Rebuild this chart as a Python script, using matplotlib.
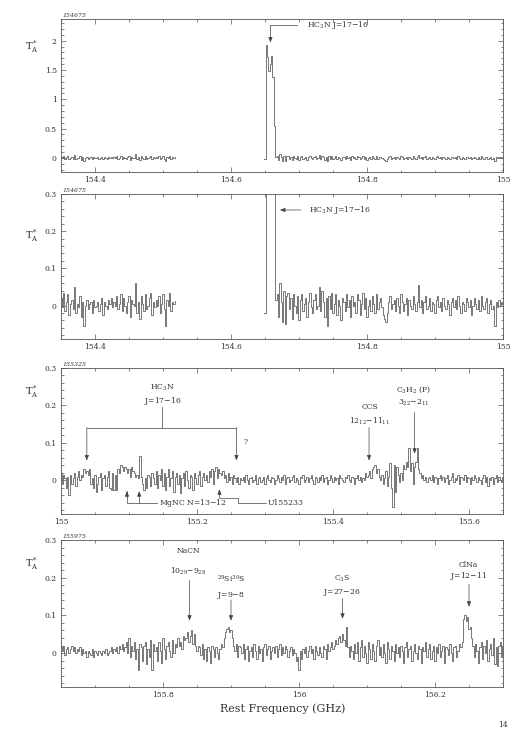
import numpy as np
import matplotlib
matplotlib.use("Agg")
import matplotlib.pyplot as plt
from matplotlib.ticker import MultipleLocator, FuncFormatter

plt.rcParams['font.family'] = ['DejaVu Serif']
plt.rcParams['mathtext.fontset'] = 'dejavuserif'

# spectra, T_A* in mK, 2 MHz channels
step = 0.002

a_left_start = 154.350
a_left = [20, -5, 35, -15, 10, 30, -25, 5, 15, -10,
          50, -20, 5, -5, 25, -30, 10, -55, 0, 15,
          -10, 5, 10, -20, 15, -5, 0, 10, -15, 5,
          20, -25, 10, 0, -10, 15, 5, 20, -5, 10,
          0, 25, -10, 5, 30, -15, 20, 0, -20, 10,
          25, -30, 15, 5, 0, 60, -20, 10, -35, 25,
          5, -15, 30, -10, 0, 20, 35, -25, 10, -5,
          15, 0, 25, -20, 5, 30, -10, -55, 15, 0,
          35, -15, 10, 5, 13]

a_right_start = 154.648
a_right = [-20, -20, 1930, 1720, 1480, 1600, 1740, 1380, 550, 15,
           30, -30, 60, 10, -45, 40, -50, 25, 35, -10,
           20, -35, 30, 0, -20, 25, -40, 15, 30, -15,
           5, 20, -30, 10, 35, -5, -20, 15, 30, -10,
           0, 50, -15, 40, 10, -30, 20, -55, 25, -10,
           35, -20, 5, 30, -25, 15, 0, -40, 20, 10,
           -15, 30, -5, 15, -30, 25, 0, 10, -20, 30,
           15, -25, 5, 35, -10, 20, -30, 0, 15, -15,
           25, 5, -20, 30, -10, 10, 20, -5, -25, -35,
           -45, -20, 10, 25, -10, 5, 15, -15, 20, 0,
           -20, 30, 10, -15, 5, 20, -25, 15, 0, -10,
           25, 5, -15, 10, 55, -5, 15, -20, 10, 25,
           -10, 0, 20, -15, 10, 5, -20, 15, 25, -5,
           10, -15, 20, 0, -10, 15, 5, -25, 10, 20,
           -5, 15, -10, 25, 0, -20, 10, 5, -15, 20,
           10, -5, 15, -25, 0, 20, 5, -10, 15, -15,
           25, 0, -10, 10, 20, -20, 5, 15, -10, 0,
           -55, 10, -5, 15, 0, 10, 5]

b_start = 155.000
b_vals = [20, -10, 15, 5, -20, 10, -40, 15, -10, 5,
          20, -15, 10, 25, 0, 15, 10, 30, 20, 25,
          15, 30, -10, 5, -20, 15, -30, -10, 10, 20,
          -25, 5, 15, -15, 10, 25, -20, -25, 20, -25,
          15, -25, 30, 20, 40, 35, 25, 35, 30, 20,
          30, 10, 35, 25, 20, 10, 15, 5, 65, 10,
          -10, -25, 5, -20, 15, 10, -15, 20, 5, -10,
          25, -20, 15, 0, 30, -15, 20, -25, 10, 30,
          -15, 5, 25, -30, 10, 20, -10, 15, -35, 5,
          20, -15, 25, 0, -20, 15, 10, -25, 20, 5,
          -10, 15, 25, -15, 10, 20, 0, 15, -5, 25,
          10, 30, -10, 25, 35, 5, 30, 20, 15, 25,
          5, 15, -5, 20, 0, 10, -10, 15, 5, -5,
          10, -10, 5, 0, 10, -5, 15, 0, -10, 5,
          10, -5, 0, 15, -10, 5, 10, -5, 0, 10,
          -10, 5, 15, 0, -5, 10, 5, -10, 0, 15,
          5, -5, 10, 0, 15, -10, 5, 10, -5, 0,
          10, 15, -5, 5, 0, -10, 10, 5, 15, -5,
          0, 10, -5, 5, 15, 0, -10, 10, 5, -5,
          10, 0, 15, -5, 5, 10, -10, 0, 15, 5,
          -5, 10, 0, 5, -10, 15, 5, 0, -5, 10,
          5, 15, 0, -5, 10, 5, -10, 5, 15, 0,
          10, -5, 5, 0, 20, 10, 15, 25, 5, 30,
          35, 40, 20, 30, 10, 0, 15, -10, 5, 25,
          -15, 10, 45, -20, -70, 40, -30, 35, 15, -5,
          20, 0, 40, 30, 50, 35, 85, 25, 45, -10,
          35, 50, 85, 30, 20, 5, 15, 0, 10, -5,
          5, 10, 0, 15, -5, 10, 5, -10, 5, 15,
          0, 10, -5, 5, 15, -10, 0, 10, 20, -5,
          5, 0, 15, -10, 10, 5, 0, 15, -5, 10,
          5, -10, 10, 0, 15, 5, -5, 10, 0, -10,
          5, 15, -5, 10, -15, 5, 0, 10, -10, 5,
          15, -5, 10, 0, -5, 10]

c_start = 155.650
c_vals = [15, 5, 20, -5, 10, 15, 0, 10, 20, 5,
          15, 0, 10, 5, 15, -5, 10, 0, 5, -10,
          5, 0, -5, 10, -10, 5, 0, -5, 5, 0,
          -5, 5, 0, 10, -5, 0, 5, 15, 0, 10,
          5, 15, 0, 20, 10, 25, 5, 15, 30, 0,
          40, -10, 20, 5, 30, -15, 10, -45, 25, 15,
          -20, 20, 30, -30, 10, -10, 35, -45, 25, 5,
          15, -20, 30, 5, -25, 40, 10, -15, 20, 30,
          5, -10, 35, 0, 25, 15, 40, 20, 30, 10,
          45, 35, 40, 55, 30, 45, 60, 25, 50, 20,
          5, 20, 15, -5, 25, -15, 10, -20, 15, 5,
          -25, 20, 10, -10, 15, 0, -15, 10, 25, 15,
          40, 55, 65, 70, 55, 60, 40, 20, 5, 25,
          -10, 20, 15, 0, 25, -15, 10, 20, -20, 5,
          15, -10, 25, 5, -15, 20, 0, 10, -20, 15,
          25, -5, 10, 20, -15, 5, 15, 0, 20, -10,
          10, 25, -5, 15, 0, 20, 10, -10, 5, 15,
          -5, 10, 0, -20, -10, -45, 5, -15, 10, 0,
          15, -10, 5, 20, 0, 10, -15, 20, 5, -5,
          15, 0, -10, 20, 10, -15, 25, 5, 15, 30,
          10, 20, 35, 25, 40, 45, 30, 50, 35, 20,
          70, 15, -10, 20, 5, -15, 25, 0, 30, -20,
          15, 35, -10, 20, 0, -25, 30, 10, -15, 25,
          5, -20, 20, 35, -5, 15, -10, 25, 0, -25,
          30, 10, -15, 20, 5, -20, 25, 0, 15, -10,
          20, 5, -25, 15, 30, -10, 10, 20, -20, 5,
          25, 0, -15, 20, 10, -25, 15, 5, 30, -10,
          10, 25, -15, 5, 20, -20, 15, 0, 25, -10,
          5, 20, -25, 15, 10, -5, 25, 0, -20, 15,
          20, -10, 5, 25, 15, 30, 90, 100, 85, 95,
          65, 70, 40, 20, -10, 25, 5, -25, 15, 30,
          -15, 20, 0, 35, -20, 10, 25, -5, 40, -30,
          15, -35, 20, 30, -10, 15]

panel_labels = ["154675", "154675", "155325", "155975"]
xlims = [(154.35, 155.0), (154.35, 155.0), (155.0, 155.65), (155.65, 156.3)]
ylims = [(-0.24, 2.37), (-0.09, 0.3), (-0.09, 0.3), (-0.09, 0.3)]


def spec(start, vals):
    f = start + step * np.arange(len(vals))
    return f, np.array(vals) / 1000.0


fa1, ta1 = spec(a_left_start, a_left)
fa2, ta2 = spec(a_right_start, a_right)
fb, tb = spec(b_start, b_vals)
fc, tc = spec(c_start, c_vals)

W, H = 516, 737
fig = plt.figure(figsize=(W / 100, H / 100), dpi=100)
boxes = [(19, 172), (194, 339), (368, 514), (540, 687)]
tay = [47, 236, 392, 564]
lc = '#6e6e6e'
tc_ = '#333333'
axes = []
for i, (top, bot) in enumerate(boxes):
    ax = fig.add_axes([61 / W, 1 - bot / H, 442 / W, (bot - top) / H])
    axes.append(ax)
    ax.set_xlim(*xlims[i])
    ax.set_ylim(*ylims[i])
    ax.xaxis.set_major_locator(MultipleLocator(0.2))
    ax.xaxis.set_minor_locator(MultipleLocator(0.05))
    if i == 0:
        ax.yaxis.set_major_locator(MultipleLocator(0.5))
        ax.yaxis.set_minor_locator(MultipleLocator(0.1))
    else:
        ax.yaxis.set_major_locator(MultipleLocator(0.1))
        ax.yaxis.set_minor_locator(MultipleLocator(0.02))
    fmt = FuncFormatter(lambda v, p: f"{round(v, 3):g}")
    ax.xaxis.set_major_formatter(fmt)
    ax.yaxis.set_major_formatter(fmt)
    ax.tick_params(which='both', direction='in', top=True, right=True,
                   width=0.5, colors='#555555', labelcolor=tc_, labelsize=5.5)
    ax.tick_params(which='major', length=3.5, pad=3)
    ax.tick_params(which='minor', length=1.8)
    for s in ax.spines.values():
        s.set_linewidth(0.6)
        s.set_color('#555555')
    ax.text(0.003, 1.008, panel_labels[i], transform=ax.transAxes,
            fontsize=4.5, style='italic', va='bottom', ha='left', color=tc_)
    ax.text(-0.066, (bot - tay[i]) / (bot - top), r"T$_\mathrm{A}^*$",
            transform=ax.transAxes, fontsize=7, ha='center', va='center', color=tc_)

kw = dict(drawstyle='steps-mid', color=lc, lw=0.65)
for ax in axes[:2]:
    ax.plot(fa1, ta1, **kw)
    ax.plot(fa2, ta2, **kw)
axes[2].plot(fb, tb, **kw)
axes[3].plot(fc, tc, **kw)

alw = 0.5


def arrow(ax, x0, y0, x1, y1):
    ax.annotate("", xy=(x1, y1), xytext=(x0, y0),
                arrowprops=dict(arrowstyle="-|>,head_length=0.3,head_width=0.12",
                                color='#444444', lw=alw, shrinkA=0, shrinkB=0))


def seg(ax, xs, ys):
    ax.plot(xs, ys, color='#444444', lw=alw)


def label(ax, x, y, s, ha='center'):
    ax.text(x, y, s, fontsize=5.5, ha=ha, va='center', color=tc_)


# panel 1
ax = axes[0]
seg(ax, [154.697, 154.658], [2.26, 2.26])
arrow(ax, 154.658, 2.26, 154.658, 1.97)
label(ax, 154.712, 2.26, r"HC$_3$N J=17$-$16", ha='left')

# panel 2
ax = axes[1]
arrow(ax, 154.703, 0.257, 154.672, 0.257)
label(ax, 154.714, 0.257, r"HC$_3$N J=17$-$16", ha='left')

# panel 3
ax = axes[2]
label(ax, 155.149, 0.248, r"HC$_3$N")
label(ax, 155.149, 0.212, r"J=17$-$16")
seg(ax, [155.149, 155.149], [0.197, 0.141])
seg(ax, [155.038, 155.258], [0.141, 0.141])
arrow(ax, 155.038, 0.141, 155.038, 0.053)
arrow(ax, 155.258, 0.141, 155.258, 0.053)
label(ax, 155.271, 0.103, "?")
seg(ax, [155.097, 155.097, 155.141], [-0.029, -0.061, -0.061])
arrow(ax, 155.097, -0.045, 155.097, -0.029)
seg(ax, [155.115, 155.115], [-0.061, -0.045])
arrow(ax, 155.115, -0.045, 155.115, -0.029)
label(ax, 155.144, -0.061, r"MgNC N=13$-$12", ha='left')
seg(ax, [155.301, 155.261, 155.261, 155.233, 155.233],
    [-0.061, -0.061, -0.046, -0.046, -0.035])
arrow(ax, 155.233, -0.036, 155.233, -0.024)
label(ax, 155.304, -0.061, "U155233", ha='left')
label(ax, 155.454, 0.197, "CCS")
label(ax, 155.454, 0.157, r"12$_{12}$$-$11$_{11}$")
arrow(ax, 155.453, 0.141, 155.453, 0.053)
label(ax, 155.518, 0.243, r"C$_3$H$_2$ (P)")
label(ax, 155.518, 0.206, r"3$_{22}$$-$2$_{11}$")
arrow(ax, 155.520, 0.182, 155.520, 0.071)

# panel 4
ax = axes[3]
label(ax, 155.837, 0.270, "NaCN")
label(ax, 155.837, 0.216, r"10$_{29}$$-$9$_{28}$")
arrow(ax, 155.839, 0.193, 155.839, 0.086)
label(ax, 155.900, 0.195, r"$^{29}$Si$^{30}$S")
label(ax, 155.900, 0.153, r"J=9$-$8")
arrow(ax, 155.900, 0.141, 155.900, 0.086)
label(ax, 156.063, 0.198, r"C$_3$S")
label(ax, 156.063, 0.162, r"J=27$-$26")
arrow(ax, 156.064, 0.145, 156.064, 0.091)
label(ax, 156.249, 0.234, "ClNa")
label(ax, 156.249, 0.204, r"J=12$-$11")
arrow(ax, 156.250, 0.182, 156.250, 0.123)

fig.text(283 / W, 1 - 709 / H, "Rest Frequency (GHz)", fontsize=8,
         ha='center', va='center', color=tc_)
fig.text(508 / W, 1 - 725 / H, "14", fontsize=5.5, ha='right', va='center', color=tc_)

fig.savefig("out.png", dpi=100)
